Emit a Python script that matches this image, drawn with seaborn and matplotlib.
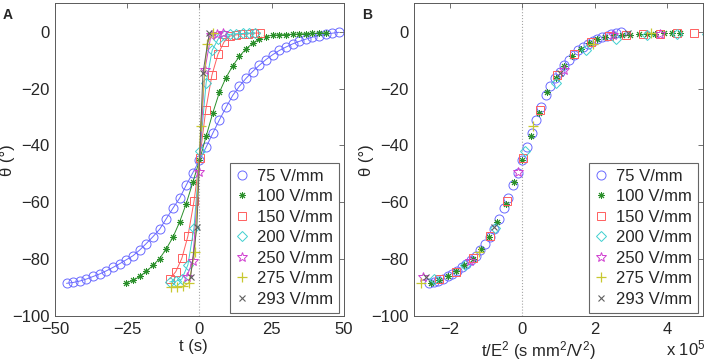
import numpy as np
import pandas as pd
import matplotlib
matplotlib.use('Agg')
import matplotlib.pyplot as plt
from matplotlib.lines import Line2D
import seaborn as sns

# --- DATA: tilt angle theta (deg) vs time t (s) for each applied field ---
fields = [75, 100, 150, 200, 250, 275, 293]          # V/mm
labels = ['75 V/mm', '100 V/mm', '150 V/mm', '200 V/mm',
          '250 V/mm', '275 V/mm', '293 V/mm']

t_75 = [-46.0, -43.7, -41.4, -39.1, -36.8, -34.5, -32.2, -29.9, -27.6, -25.3,
        -23.0, -20.7, -18.4, -16.1, -13.8, -11.5, -9.2, -6.9, -4.6, -2.3,
        0.0, 2.3, 4.6, 6.9, 9.2, 11.5, 13.8, 16.1, 18.4, 20.7,
        23.0, 25.3, 27.6, 29.9, 32.2, 34.5, 36.8, 39.1, 41.4, 43.7, 46.0, 48.3]
th_75 = [-88.5, -88.2, -87.7, -87.0, -86.1, -85.2, -84.1, -82.9, -81.6, -80.2,
         -78.8, -76.8, -74.5, -72.1, -69.5, -65.8, -62.1, -58.6, -54.0, -49.6,
         -45.2, -40.6, -35.7, -31.0, -26.6, -22.4, -19.2, -16.4, -14.0, -11.8,
         -9.8, -8.1, -6.6, -5.4, -4.3, -3.4, -2.6, -1.9, -1.4, -0.9, -0.5, -0.2]

t_100 = [-25.3, -23.0, -20.7, -18.4, -16.1, -13.8, -11.5, -9.2, -6.9, -4.6,
         -2.3, 0.0, 2.3, 4.6, 6.9, 9.2, 11.5, 13.8, 16.1, 18.4,
         20.7, 23.0, 25.3, 27.6, 29.9, 32.2, 34.5, 36.8, 39.1, 41.4, 43.7]
th_100 = [-88.3, -87.5, -86.1, -84.3, -82.2, -79.8, -76.4, -72.3, -67.0, -60.5,
          -53.0, -45.2, -36.8, -28.6, -21.3, -16.1, -12.0, -8.7, -6.0, -4.1,
          -2.6, -1.7, -1.2, -1.1, -1.0, -0.9, -0.8, -0.7, -0.6, -0.5, -0.4]

t_150 = [-10.3, -8.2, -6.1, -4.0, -1.9, 0.1, 2.2, 4.3, 6.4, 8.5,
         10.6, 12.7, 14.8, 16.9, 19.0, 21.1]
th_150 = [-87.0, -84.4, -79.7, -71.9, -59.7, -44.4, -27.4, -15.3, -7.9, -3.6,
          -1.5, -1.1, -0.9, -0.7, -0.5, -0.4]

t_200 = [-10.3, -8.2, -6.1, -4.0, -1.9, 0.2, 2.3, 4.4, 6.5, 8.6,
         10.7, 12.8, 14.9, 17.0, 19.1]
th_200 = [-88.0, -87.8, -87.0, -82.0, -69.0, -42.0, -18.0, -6.5, -2.5, -1.3,
          -0.9, -0.7, -0.6, -0.5, -0.4]

t_250 = [-4.4, -2.3, -0.2, 1.85, 4.0, 6.1, 8.2]
th_250 = [-86.2, -80.5, -49.5, -13.4, -1.2, -0.7, -0.4]

t_275 = [-9.7, -7.7, -5.7, -3.7, -1.6, 0.4, 2.6, 4.7]
th_275 = [-89.7, -89.7, -89.6, -88.4, -77.5, -33.0, -4.2, -0.4]

t_293 = [-3.1, -0.9, 1.2, 3.4]
th_293 = [-86.4, -68.8, -14.5, -0.6]

times = [t_75, t_100, t_150, t_200, t_250, t_275, t_293]
thetas = [th_75, th_100, th_150, th_200, th_250, th_275, th_293]

colors = ['#6a6aff', '#2a8f2a', '#ff5e5e', '#3fd0d0', '#d040d0', '#c8c830', '#606060']
markers = ['o', (8, 2, 0), 's', 'D', '*', '+', 'x']
msizes = [6.5, 5, 6, 5, 7, 7, 5]
mews = [0.7, 0.7, 0.7, 0.7, 0.7, 0.9, 0.8]

# --- STYLE ---
sns.set_style('white')
plt.rcParams['font.family'] = ['Liberation Sans', 'DejaVu Sans']
plt.rcParams['mathtext.fontset'] = 'custom'
plt.rcParams['mathtext.rm'] = 'Liberation Sans'
plt.rcParams['mathtext.it'] = 'Liberation Sans:italic'

fig = plt.figure(figsize=(7.06, 3.64), dpi=100)
axA = fig.add_axes([0.0779, 0.1319, 0.4093, 0.859])
axB = fig.add_axes([0.5864, 0.1319, 0.4094, 0.859])


def style_axes(ax):
    ax.set_ylim(-100, 10)
    ax.set_yticks([-100, -80, -60, -40, -20, 0])
    ax.axvline(0, color='0.65', ls=':', lw=0.8, zorder=0)
    for s in ax.spines.values():
        s.set_color('0.35')
        s.set_linewidth(0.7)
    ax.tick_params(direction='in', length=3.5, width=0.6, color='0.35',
                   top=True, right=True, labelsize=12, pad=4)
    ax.set_ylabel('θ (°)', fontsize=12)
    ax.yaxis.set_label_coords(-0.14, 0.5)


def add_legend(ax):
    handles = [Line2D([], [], color=c, marker=m, markersize=ms, markeredgecolor=c,
                      markeredgewidth=w, linestyle='', markerfacecolor='none')
               for c, m, ms, w in zip(colors, markers, msizes, mews)]
    leg = ax.legend(handles, labels, loc='lower right', bbox_to_anchor=(0.995, 0.0),
                    fontsize=12, frameon=True, fancybox=False, edgecolor='0.4',
                    framealpha=1, handlelength=0.8, handletextpad=0.5,
                    labelspacing=0.33, borderpad=0.35, borderaxespad=0.2)
    leg.get_frame().set_linewidth(0.8)


# --- PANEL A: theta vs t, lines + markers ---
for t, th, c, m, ms, w in zip(times, thetas, colors, markers, msizes, mews):
    df = pd.DataFrame({'t': t, 'theta': th})
    sns.lineplot(data=df, x='t', y='theta', ax=axA, color=c, lw=0.7,
                 estimator=None, sort=False, legend=False)
    sns.lineplot(data=df, x='t', y='theta', ax=axA, color=c, marker=m,
                 markersize=ms, markeredgecolor=c, markeredgewidth=w,
                 markerfacecolor='none', linestyle='', estimator=None,
                 sort=False, legend=False)

axA.set_xlim(-50, 50)
axA.set_xticks([-50, -25, 0, 25, 50])
style_axes(axA)
axA.set_xlabel('t (s)', fontsize=12)
axA.xaxis.set_label_coords(0.48, -0.075)
add_legend(axA)
axA.text(-0.18, 0.985, 'A', transform=axA.transAxes, fontsize=10,
         fontweight='bold', va='top', ha='left')

# --- PANEL B: theta vs t*E^2 (collapse) ---
for t, th, e, c, m, ms, w in zip(times, thetas, fields, colors, markers, msizes, mews):
    df = pd.DataFrame({'x': np.array(t) * e ** 2 / 1e5, 'theta': th})
    sns.lineplot(data=df, x='x', y='theta', ax=axB, color=c, marker=m,
                 markersize=ms, markeredgecolor=c, markeredgewidth=w,
                 markerfacecolor='none', linestyle='', estimator=None,
                 sort=False, legend=False)

axB.set_xlim(-3, 5)
axB.set_xticks([-2, 0, 2, 4])
style_axes(axB)
axB.set_xlabel('t/E$^2$ (s mm$^2$/V$^2$)', fontsize=12)
axB.xaxis.set_label_coords(0.43, -0.075)
axB.text(1.01, -0.135, 'x 10$^5$', transform=axB.transAxes, fontsize=12,
         ha='right', va='bottom')
add_legend(axB)
axB.text(-0.18, 0.985, 'B', transform=axB.transAxes, fontsize=10,
         fontweight='bold', va='top', ha='left')

fig.savefig('out.png', dpi=100)
